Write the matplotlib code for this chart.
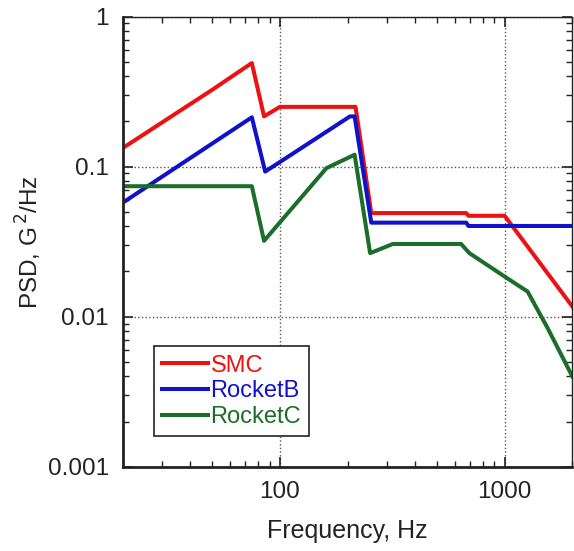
import matplotlib
matplotlib.use('Agg')
import matplotlib.pyplot as plt
from matplotlib.ticker import FixedLocator, FixedFormatter, LogLocator, NullFormatter

plt.rcParams['font.family'] = ['Liberation Sans', 'DejaVu Sans']

# SMC spec
smc_f = [20, 50, 75, 85, 100, 217, 255, 675, 690, 1000, 2000]
smc_psd = [0.133, 0.325, 0.49, 0.216, 0.25, 0.25, 0.049, 0.049, 0.047, 0.047, 0.0117]

# RocketB
rb_f = [20, 75, 86, 205, 215, 255, 675, 690, 2000]
rb_psd = [0.0575, 0.213, 0.0926, 0.216, 0.216, 0.0423, 0.0423, 0.0402, 0.0402]

# RocketC
rc_f = [20, 75, 85, 161, 215, 252, 318, 640, 697, 1000, 1265, 1553, 2000]
rc_psd = [0.074, 0.074, 0.032, 0.0976, 0.12, 0.0265, 0.0305, 0.0305, 0.0265, 0.0185, 0.0147, 0.0084, 0.004]

series = [
    ("SMC", smc_f, smc_psd, '#ee1111'),
    ("RocketB", rb_f, rb_psd, '#1111cc'),
    ("RocketC", rc_f, rc_psd, '#1b6e2a'),
]

fig = plt.figure(figsize=(5.74, 5.51), dpi=100)
ax = fig.add_axes([0.214, 0.153, 0.783, 0.817])

for label, f, p, color in series:
    ax.plot(f, p, color=color, linewidth=2.9, label=label)

ax.set_xscale('log')
ax.set_yscale('log')
ax.set_xlim(20, 2000)
ax.set_ylim(0.001, 1)

ax.xaxis.set_major_locator(FixedLocator([100, 1000]))
ax.xaxis.set_major_formatter(FixedFormatter(['100', '1000']))
ax.xaxis.set_minor_locator(LogLocator(base=10, subs=range(2, 10), numticks=20))
ax.xaxis.set_minor_formatter(NullFormatter())
ax.yaxis.set_major_locator(FixedLocator([0.001, 0.01, 0.1, 1]))
ax.yaxis.set_major_formatter(FixedFormatter(['0.001', '0.01', '0.1', '1']))
ax.yaxis.set_minor_locator(LogLocator(base=10, subs=range(2, 10), numticks=20))
ax.yaxis.set_minor_formatter(NullFormatter())

ax.tick_params(which='both', direction='in', top=True, right=True, labelsize=17.5, colors='#222222')
ax.tick_params(which='major', length=7, width=1.2)
ax.tick_params(which='minor', length=4, width=1)
ax.tick_params(axis='x', pad=10)
ax.tick_params(axis='y', pad=10)

ax.grid(True, which='major', linestyle=':', color='#555555', linewidth=1)

for s in ax.spines.values():
    s.set_color('#222222')
ax.spines['left'].set_linewidth(2)
ax.spines['bottom'].set_linewidth(2)
ax.spines['top'].set_linewidth(1)
ax.spines['right'].set_linewidth(1)

ax.set_xlabel("Frequency, Hz", fontsize=18, color='#222222', labelpad=12)
ax.set_ylabel("PSD, G$^{\\,2}$/Hz", fontsize=17.5, color='#222222', labelpad=2.5)

leg = ax.legend(loc='lower left', bbox_to_anchor=(0.069, 0.068), fontsize=17,
                frameon=True, fancybox=False, framealpha=1, edgecolor='#222222',
                handlelength=1.95, handletextpad=0.1, borderpad=0.35, labelspacing=0.15,
                borderaxespad=0)
leg.get_frame().set_linewidth(1.2)
for text, (_, _, _, color) in zip(leg.get_texts(), series):
    text.set_color(color)

fig.savefig('out.png', dpi=100)
